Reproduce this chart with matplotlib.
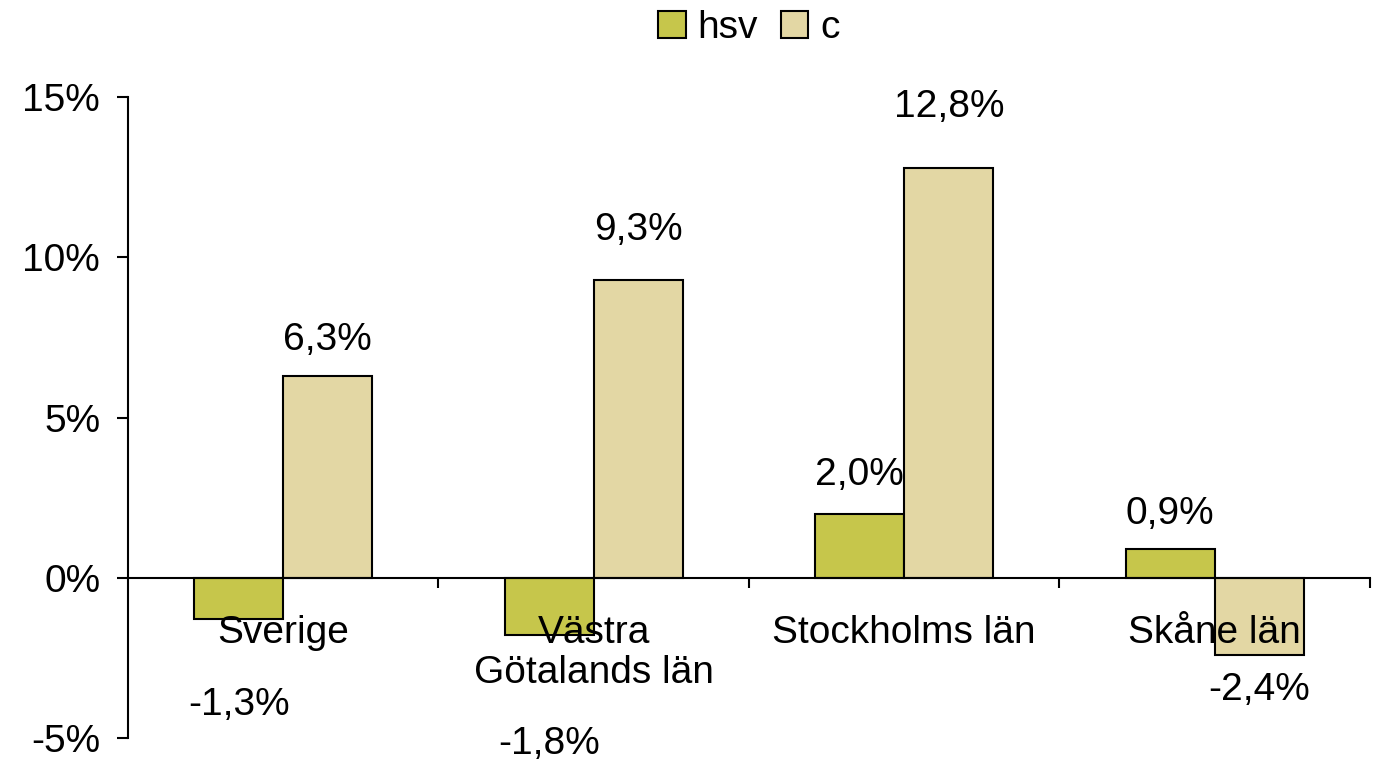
import matplotlib.pyplot as plt
import numpy as np

# data
categories = ['Sverige', 'Västra\nGötalands län', 'Stockholms län', 'Skåne län']
hsv_values = [-1.3, -1.8, 2.0, 0.9]
c_values = [6.3, 9.3, 12.8, -2.4]
# vertical positions (in %) of the value labels, as Excel placed them
hsv_label_y = [-3.97, -5.2, 3.2, 2.0]
c_label_y = [7.42, 10.84, 14.68, -3.5]
y_ticks = [-5, 0, 5, 10, 15]

plt.rcParams['font.family'] = ['Liberation Sans', 'DejaVu Sans']

HSV_COLOR = '#C6C64B'
C_COLOR = '#E3D7A4'
FS = 28


def fmt(v):
    return f'{v:.1f}%'.replace('.', ',')


def main():
    fig = plt.figure(figsize=(13.76, 7.61), dpi=100)
    ax = fig.add_axes([0.093, 0.0302, 0.9026, 0.8423])

    x = np.arange(len(categories))
    w = 0.287
    ax.bar(x - w / 2, hsv_values, w, color=HSV_COLOR, edgecolor='black',
           linewidth=1.5, label='hsv', zorder=2)
    ax.bar(x + w / 2, c_values, w, color=C_COLOR, edgecolor='black',
           linewidth=1.5, label='c', zorder=2)

    # value labels
    for xi, v, ly in zip(x - w / 2, hsv_values, hsv_label_y):
        ax.text(xi, ly, fmt(v), ha='center', va='center', fontsize=FS, zorder=4)
    for xi, v, ly in zip(x + w / 2, c_values, c_label_y):
        ax.text(xi, ly, fmt(v), ha='center', va='center', fontsize=FS, zorder=4)

    ax.set_xlim(-0.5, 3.5)
    ax.set_ylim(-5, 15)
    ax.set_axisbelow(False)

    # y axis
    ax.set_yticks(y_ticks)
    ax.set_yticklabels([f'{t}%' for t in y_ticks], fontsize=FS)
    ax.tick_params(axis='y', direction='out', length=8, width=1.5, pad=12)

    # x axis sits on zero, boundaries as ticks, category names in between
    ax.spines['bottom'].set_position(('data', 0))
    ax.spines['top'].set_visible(False)
    ax.spines['right'].set_visible(False)
    for s in ('bottom', 'left'):
        ax.spines[s].set_linewidth(1.5)
        ax.spines[s].set_zorder(3)
    ax.set_xticks([0.5, 1.5, 2.5, 3.5])
    ax.set_xticklabels([])
    ax.tick_params(axis='x', which='major', direction='out', length=7, width=1.5)
    ax.set_xticks(x, minor=True)
    ax.set_xticklabels(categories, minor=True, fontsize=FS, linespacing=1.15)
    ax.tick_params(axis='x', which='minor', length=0, pad=27)

    ax.legend(loc='upper center', bbox_to_anchor=(0.5, 1.16), ncol=2,
              frameon=False, fontsize=FS, handlelength=0.7, handleheight=0.7,
              handletextpad=0.3, columnspacing=0.6, borderaxespad=0)

    fig.savefig('out.png', dpi=100)


if __name__ == '__main__':
    main()
